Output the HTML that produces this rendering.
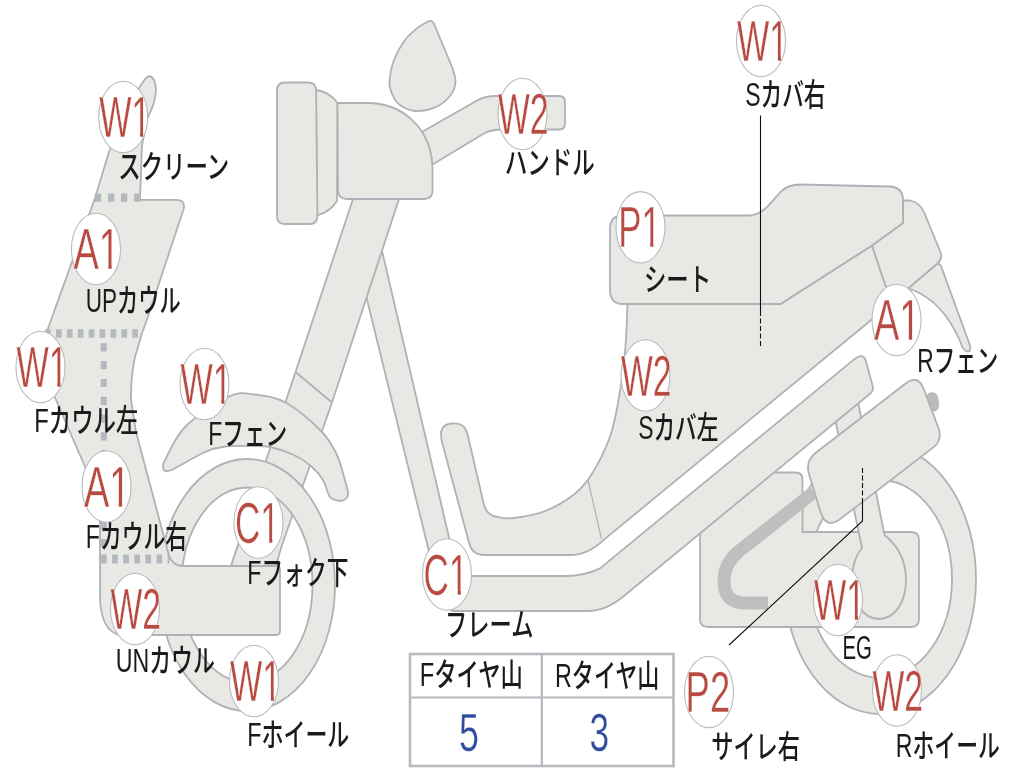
<!DOCTYPE html>
<html lang="ja"><head><meta charset="utf-8"><title>バイク状態図</title>
<style>html,body{margin:0;padding:0;background:#fff;overflow:hidden}svg{display:block;filter:blur(0.5px)}</style></head>
<body>
<svg width="1024" height="768" viewBox="0 0 1024 768">
<defs>
<clipPath id="kW" clipPathUnits="userSpaceOnUse"><path clip-rule="evenodd" d="M-10,-70 H130 V20 H-10 Z M55.64,-5.46 H68.13 V2 H55.64 Z M73.17,-5.46 H85.22 V2 H73.17 Z"/></clipPath>
<clipPath id="kA" clipPathUnits="userSpaceOnUse"><path clip-rule="evenodd" d="M-10,-70 H130 V20 H-10 Z M39.86,-5.46 H52.35 V2 H39.86 Z M57.39,-5.46 H69.44 V2 H57.39 Z"/></clipPath>
<clipPath id="kC" clipPathUnits="userSpaceOnUse"><path clip-rule="evenodd" d="M-10,-70 H130 V20 H-10 Z M43.01,-5.46 H55.50 V2 H43.01 Z M60.53,-5.46 H72.58 V2 H60.53 Z"/></clipPath>
<clipPath id="kP" clipPathUnits="userSpaceOnUse"><path clip-rule="evenodd" d="M-10,-70 H130 V20 H-10 Z M39.86,-5.46 H52.35 V2 H39.86 Z M57.39,-5.46 H69.44 V2 H57.39 Z"/></clipPath>
</defs>
<path d="M784.0,579.0 A96.0,135.0 0 1,0 976.0,579.0 A96.0,135.0 0 1,0 784.0,579.0 Z M808.0,579.0 A72.0,99.0 0 1,1 952.0,579.0 A72.0,99.0 0 1,1 808.0,579.0 Z" fill="#e8e8e4" stroke="#aeb2b6" stroke-width="1.8" stroke-linejoin="round" fill-rule="evenodd"/>
<path d="M700.0,529.4 L769.3,472.5 L795.5,472.5 Q802.5,472.5 802.5,479.5 L802.5,532.0 L911.0,532.0 Q919.0,532.0 919.0,540.0 L919.0,619.0 Q919.0,627.0 911.0,627.0 L708.0,627.0 Q700.0,627.0 700.0,619.0 Z" fill="#e8e8e4" stroke="#aeb2b6" stroke-width="1.8" stroke-linejoin="round" />
<path d="M814,492 L738,552 Q724,564 724,581 Q724,603 745,603 L768,603" fill="none" stroke="#bfbfbf" stroke-width="13"/>
<path d="M835.5,421 L858,402 L884.5,535 C897,545 906,560 906,580 C906,603 894,619 879,619 C864,619 852,603 852,580 C852,566 856,555 862,548 Z" fill="#e8e8e4" stroke="#aeb2b6" stroke-width="1.8" stroke-linejoin="round" />
<path d="M376,225 L449,537.5 Q455,576 470,576 L566,576 Q584,576 600,568.4 L854.1,359.4 Q863.4,351.8 866.0,361.5 L872.6,385.7 Q873.9,390.5 870.0,393.7 L626,594.3 Q607,611 588,611 L452,611 Q436,605 428,547.5 L366,295.5 L352,235 Z" fill="#e8e8e4" stroke="#aeb2b6" stroke-width="1.8" stroke-linejoin="round" />
<path d="M627.5,304 L780.5,304 L872,245.5 L885.5,285.5 L896,299.5 L873,318.5 L604,539.6 Q588,555 570,555 L484,555 Q472,555 469,542.5 L442.5,444 C438,428 444,424 452,423.5 C460,423 465,425 467.5,434 L484,505 Q487,516 498,517 C500.7,517.6 506.3,519.0 514.0,518.0 C521.7,517.0 534.0,515.4 544.0,511.5 C554.0,507.6 566.1,500.7 574.0,494.5 C581.9,488.3 585.7,483.7 591.5,474.5 C597.3,465.3 604.7,450.9 609.0,439.5 C613.3,428.1 614.8,420.6 617.5,406.0 C620.2,391.4 623.3,369.0 625.0,352.0 C626.7,335.0 627.1,312.0 627.5,304.0 Z" fill="#e8e8e4" stroke="#aeb2b6" stroke-width="1.8" stroke-linejoin="round" />
<path d="M588,480 L601.5,539" fill="none" stroke="#aeb2b6" stroke-width="1.2"/>
<path d="M932,398.5 L933,405.5" fill="none" stroke="#bcbcbc" stroke-width="12.5" stroke-linecap="round"/>
<path d="M809.1,474.4 Q805.0,461.0 816.1,452.5 L905.3,383.8 Q918.0,374.0 923.7,389.0 L938.4,427.8 Q943.0,440.0 932.7,447.9 L841.1,518.4 Q826.0,530.0 820.5,511.8 Z" fill="#e8e8e4" stroke="#aeb2b6" stroke-width="1.8" stroke-linejoin="round" />
<path d="M908,288.5 L938,263 L941,266 L969.5,344 Q972,352 967.5,351.5 Q963,351 960,341 C950,318 935,299 913,290 Z" fill="#e8e8e4" stroke="#aeb2b6" stroke-width="1.8" stroke-linejoin="round" />
<path d="M903,200.5 L910.5,200.5 Q920,203 924,212 L940.5,252 Q943,258 938,263 L908,288.5 L896,299.5 L885.5,285.5 L872,245.5 L903,223 Z" fill="#e8e8e4" stroke="#aeb2b6" stroke-width="1.8" stroke-linejoin="round" />
<path d="M610,229 Q610,215.5 623,215.5 L750,215.5 C764,214 769,204 781,191.5 Q788,184.5 800,184.5 L889,186.5 Q903,187 903,200 L903,223 L872,245.5 L780.5,304 L623,304 Q610,304 610,290 Z" fill="#e8e8e4" stroke="#aeb2b6" stroke-width="1.8" stroke-linejoin="round" />
<path d="M356,190 L295.5,372 L231.4,564.6 L225,585 L270,585 L282,545 L332,402.5 L399,199 L399,190 Z" fill="#e8e8e4" stroke="#aeb2b6" stroke-width="1.8" stroke-linejoin="round" />
<path d="M295.5,372 L332,402.5" fill="none" stroke="#aeb2b6" stroke-width="1.8"/>
<path d="M159.0,585.0 A88.0,126.0 0 1,0 335.0,585.0 A88.0,126.0 0 1,0 159.0,585.0 Z M181.5,585.0 A65.5,97.5 0 1,1 312.5,585.0 A65.5,97.5 0 1,1 181.5,585.0 Z" fill="#e8e8e4" stroke="#aeb2b6" stroke-width="1.8" stroke-linejoin="round" fill-rule="evenodd"/>
<path d="M164,462 C167.5,456.2 174.2,437.9 185.0,427.0 C195.8,416.1 217.3,401.9 229.0,396.5 C240.7,391.1 245.4,393.4 255.0,394.5 C264.6,395.6 275.4,396.8 286.5,403.0 C297.6,409.2 313.2,423.0 321.5,431.5 C329.8,440.0 332.8,446.5 336.5,454.0 C340.2,461.5 342.1,470.2 344.0,476.5 C345.9,482.8 347.3,489.4 348.0,492.0 Q349,500 340,501 C338.3,500.3 332.8,500.5 330.0,497.0 C327.2,493.5 326.1,485.1 323.0,480.0 C319.9,474.9 316.3,470.7 311.5,466.5 C306.7,462.3 300.9,458.2 294.0,455.0 C287.1,451.8 277.5,448.5 270.0,447.0 C262.5,445.5 256.5,446.1 249.0,446.0 C241.5,445.9 232.3,445.5 225.0,446.5 C217.7,447.5 213.8,448.1 205.0,452.0 C196.2,455.9 177.5,467.0 172.0,470.0 Q160,474 164,462 Z" fill="#e8e8e4" stroke="#aeb2b6" stroke-width="1.8" stroke-linejoin="round" />
<path d="M109,152 Q125,108 145,79 Q150,73 154,80 Q160,94 147.5,118 L142,145 L140,199.8 L176,199.8 Q186,199.8 183.5,209.5 L147.5,318 L141.7,334 L134.5,359 Q130.5,380 131,400 L136,432 L168,552 Q171,566 184,566 L276,566 Q280,566 280,570 L280,631 Q280,635 276,635 L120,635 Q102,632 100,600 L100,519 L86,469 L56,400 C46,378 40,355 46,334 L95,198 Z" fill="#e8e8e4" stroke="#aeb2b6" stroke-width="1.8" stroke-linejoin="round" />
<path d="M94.8,197.6 L140.5,197.6" fill="none" stroke="#b4b8bf" stroke-width="8.2" stroke-dasharray="6.3 6.8"/>
<path d="M45.1,333.5 L138.5,333.5" fill="none" stroke="#b4b8bf" stroke-width="8.3" stroke-dasharray="5.7 5.2"/>
<path d="M103.8,343.3 L103.8,559" fill="none" stroke="#b4b8bf" stroke-width="6.0" stroke-dasharray="8.2 9.6"/>
<path d="M101,559 L169.5,559" fill="none" stroke="#b4b8bf" stroke-width="8.9" stroke-dasharray="5.7 5.4"/>
<path d="M420,133 L478,100 Q486,96 496,96 L559,96 Q565,96 565,102 L565,123.5 Q565,129.5 559,129.5 L500,129.5 Q490,130 484,133.5 L430,166 Z" fill="#e8e8e4" stroke="#aeb2b6" stroke-width="1.8" stroke-linejoin="round" />
<path d="M434.5,25 L452.5,68 C453.0,70.3 455.9,77.3 455.5,82.0 C455.1,86.7 453.4,91.8 450.0,96.0 C446.6,100.2 440.8,105.0 435.0,107.5 C429.2,110.0 420.8,111.4 415.0,111.0 C409.2,110.6 403.8,107.7 400.0,105.0 C396.2,102.3 394.2,98.8 392.5,95.0 C390.8,91.2 389.2,87.8 389.5,82.0 C389.8,76.2 391.4,67.0 394.0,60.0 C396.6,53.0 401.0,45.4 405.0,40.0 C409.0,34.6 414.2,30.6 418.0,27.5 C421.8,24.4 426.3,22.5 428.0,21.5 Q432.5,19.5 434.5,25 Z" fill="#e8e8e4" stroke="#aeb2b6" stroke-width="1.8" stroke-linejoin="round" />
<path d="M316,90 Q330,92 337.5,103 L337,201 Q330,212 317,215.5 Z" fill="#e8e8e4" stroke="#aeb2b6" stroke-width="1.8" stroke-linejoin="round" />
<path d="M277.0,90.5 Q277.0,82.5 285.0,82.5 L308.0,82.5 Q316.0,82.5 316.1,90.5 L317.4,216.0 Q317.5,224.0 309.5,224.0 L285.0,224.0 Q277.0,224.0 277.0,216.0 Z" fill="#e8e8e4" stroke="#aeb2b6" stroke-width="1.8" stroke-linejoin="round" />
<path d="M337.5,103 L370,103 C402,104 432.5,128 432.5,170 L432.5,191 Q432.5,199 424,199 L347,199 Q338.5,199 338,191 Z" fill="#e8e8e4" stroke="#aeb2b6" stroke-width="1.8" stroke-linejoin="round" />
<rect x="410" y="654" width="263.5" height="112" fill="#fff" stroke="#b6b9c0" stroke-width="2.6"/>
<path d="M541.8,654 L541.8,766 M410,697.5 L673.5,697.5" fill="none" stroke="#b6b9c0" stroke-width="2.2"/>
<path d="M760.5,115.5 L760.5,311" fill="none" stroke="#111" stroke-width="1.1"/>
<path d="M760.5,311 L760.5,347" fill="none" stroke="#111" stroke-width="1.1" stroke-dasharray="5 2.5"/>
<path d="M862.5,468 L862.5,501" fill="none" stroke="#111" stroke-width="1.1" stroke-dasharray="5 2.5"/>
<path d="M862.5,501 L862.5,521 L729,645" fill="none" stroke="#111" stroke-width="1.1"/>
<ellipse cx="123.2" cy="117" rx="24.5" ry="35.7" fill="#fff" stroke="#b9bac0" stroke-width="1.1"/>
<ellipse cx="96" cy="249" rx="24.5" ry="35.7" fill="#fff" stroke="#b9bac0" stroke-width="1.1"/>
<ellipse cx="40.5" cy="367" rx="24.5" ry="35.7" fill="#fff" stroke="#b9bac0" stroke-width="1.1"/>
<ellipse cx="204.5" cy="384" rx="24.5" ry="35.7" fill="#fff" stroke="#b9bac0" stroke-width="1.1"/>
<ellipse cx="106.5" cy="486.5" rx="24.5" ry="35.7" fill="#fff" stroke="#b9bac0" stroke-width="1.1"/>
<ellipse cx="258.5" cy="522.5" rx="24.5" ry="35.7" fill="#fff" stroke="#b9bac0" stroke-width="1.1"/>
<ellipse cx="135" cy="609" rx="24.5" ry="35.7" fill="#fff" stroke="#b9bac0" stroke-width="1.1"/>
<ellipse cx="254" cy="681" rx="24.5" ry="35.7" fill="#fff" stroke="#b9bac0" stroke-width="1.1"/>
<ellipse cx="447" cy="574.5" rx="24.5" ry="35.7" fill="#fff" stroke="#b9bac0" stroke-width="1.1"/>
<ellipse cx="522.5" cy="114" rx="24.5" ry="35.7" fill="#fff" stroke="#b9bac0" stroke-width="1.1"/>
<ellipse cx="761" cy="41" rx="24.5" ry="35.7" fill="#fff" stroke="#b9bac0" stroke-width="1.1"/>
<ellipse cx="640.5" cy="227.3" rx="24.5" ry="35.7" fill="#fff" stroke="#b9bac0" stroke-width="1.1"/>
<ellipse cx="645.5" cy="375.5" rx="24.5" ry="35.7" fill="#fff" stroke="#b9bac0" stroke-width="1.1"/>
<ellipse cx="896.5" cy="320" rx="24.5" ry="35.7" fill="#fff" stroke="#b9bac0" stroke-width="1.1"/>
<ellipse cx="838" cy="600" rx="24.5" ry="35.7" fill="#fff" stroke="#b9bac0" stroke-width="1.1"/>
<ellipse cx="897" cy="690.5" rx="24.5" ry="35.7" fill="#fff" stroke="#b9bac0" stroke-width="1.1"/>
<ellipse cx="709" cy="692" rx="24.5" ry="35.7" fill="#fff" stroke="#b9bac0" stroke-width="1.1"/>
<text transform="translate(118.21,178.00) scale(0.7120,1)" font-size="31.5" font-weight="500" fill="#1c1a1a" font-family="'Liberation Sans','Noto Sans CJK JP',sans-serif">スクリーン</text>
<text transform="translate(85.80,311.50) scale(0.6747,1)" font-size="31.5" font-weight="500" fill="#1c1a1a" font-family="'Liberation Sans','Noto Sans CJK JP',sans-serif"><tspan font-size="33.4">UP</tspan>カウル</text>
<text transform="translate(34.21,432.00) scale(0.7117,1)" font-size="31.5" font-weight="500" fill="#1c1a1a" font-family="'Liberation Sans','Noto Sans CJK JP',sans-serif"><tspan font-size="33.4">F</tspan>カウル左</text>
<text transform="translate(208.27,444.50) scale(0.6879,1)" font-size="31.5" font-weight="500" fill="#1c1a1a" font-family="'Liberation Sans','Noto Sans CJK JP',sans-serif"><tspan font-size="33.4">F</tspan>フェン</text>
<text transform="translate(85.76,547.50) scale(0.6922,1)" font-size="31.5" font-weight="500" fill="#1c1a1a" font-family="'Liberation Sans','Noto Sans CJK JP',sans-serif"><tspan font-size="33.4">F</tspan>カウル右</text>
<text transform="translate(247.26,584.00) scale(0.6922,1)" font-size="31.5" font-weight="500" fill="#1c1a1a" font-family="'Liberation Sans','Noto Sans CJK JP',sans-serif"><tspan font-size="33.4">F</tspan>フォク下</text>
<text transform="translate(115.75,672.00) scale(0.6945,1)" font-size="31.5" font-weight="500" fill="#1c1a1a" font-family="'Liberation Sans','Noto Sans CJK JP',sans-serif"><tspan font-size="33.4">UN</tspan>カウル</text>
<text transform="translate(247.24,746.00) scale(0.6977,1)" font-size="31.5" font-weight="500" fill="#1c1a1a" font-family="'Liberation Sans','Noto Sans CJK JP',sans-serif"><tspan font-size="33.4">F</tspan>ホイール</text>
<text transform="translate(445.11,635.50) scale(0.7064,1)" font-size="31.5" font-weight="500" fill="#1c1a1a" font-family="'Liberation Sans','Noto Sans CJK JP',sans-serif">フレーム</text>
<text transform="translate(504.65,174.00) scale(0.7163,1)" font-size="31.5" font-weight="500" fill="#1c1a1a" font-family="'Liberation Sans','Noto Sans CJK JP',sans-serif">ハンドル</text>
<text transform="translate(745.13,106.00) scale(0.6890,1)" font-size="31.5" font-weight="500" fill="#1c1a1a" font-family="'Liberation Sans','Noto Sans CJK JP',sans-serif"><tspan font-size="33.4">S</tspan>カバ右</text>
<text transform="translate(643.99,290.50) scale(0.7106,1)" font-size="31.5" font-weight="500" fill="#1c1a1a" font-family="'Liberation Sans','Noto Sans CJK JP',sans-serif">シート</text>
<text transform="translate(638.13,438.50) scale(0.6871,1)" font-size="31.5" font-weight="500" fill="#1c1a1a" font-family="'Liberation Sans','Noto Sans CJK JP',sans-serif"><tspan font-size="33.4">S</tspan>カバ左</text>
<text transform="translate(917.28,372.00) scale(0.6830,1)" font-size="31.5" font-weight="500" fill="#1c1a1a" font-family="'Liberation Sans','Noto Sans CJK JP',sans-serif"><tspan font-size="33.4">R</tspan>フェン</text>
<text transform="translate(842.46,659.00) scale(0.6109,1)" font-size="31.5" font-weight="500" fill="#1c1a1a" font-family="'Liberation Sans','Noto Sans CJK JP',sans-serif"><tspan font-size="33.4">EG</tspan></text>
<text transform="translate(895.86,757.00) scale(0.6923,1)" font-size="31.5" font-weight="500" fill="#1c1a1a" font-family="'Liberation Sans','Noto Sans CJK JP',sans-serif"><tspan font-size="33.4">R</tspan>ホイール</text>
<text transform="translate(711.17,757.50) scale(0.7059,1)" font-size="31.5" font-weight="500" fill="#1c1a1a" font-family="'Liberation Sans','Noto Sans CJK JP',sans-serif">サイレ右</text>
<text transform="translate(419.71,686.00) scale(0.7090,1)" font-size="31.5" font-weight="500" fill="#1c1a1a" font-family="'Liberation Sans','Noto Sans CJK JP',sans-serif"><tspan font-size="33.4">F</tspan>タイヤ山</text>
<text transform="translate(554.99,686.50) scale(0.6994,1)" font-size="31.5" font-weight="500" fill="#1c1a1a" font-family="'Liberation Sans','Noto Sans CJK JP',sans-serif"><tspan font-size="33.4">R</tspan>タイヤ山</text>
<text transform="translate(99.21,137.16) scale(0.5998,1)" font-size="57.0" fill="#b94a42" stroke="#fff" stroke-width="0.3" vector-effect="non-scaling-stroke" clip-path="url(#kW)" font-family="'Liberation Sans','Noto Sans CJK JP',sans-serif">W1</text>
<text transform="translate(73.44,269.17) scale(0.6660,1)" font-size="57.0" fill="#b94a42" stroke="#fff" stroke-width="0.3" vector-effect="non-scaling-stroke" clip-path="url(#kA)" font-family="'Liberation Sans','Noto Sans CJK JP',sans-serif">A1</text>
<text transform="translate(16.51,387.17) scale(0.5998,1)" font-size="57.0" fill="#b94a42" stroke="#fff" stroke-width="0.3" vector-effect="non-scaling-stroke" clip-path="url(#kW)" font-family="'Liberation Sans','Noto Sans CJK JP',sans-serif">W1</text>
<text transform="translate(180.51,404.17) scale(0.5998,1)" font-size="57.0" fill="#b94a42" stroke="#fff" stroke-width="0.3" vector-effect="non-scaling-stroke" clip-path="url(#kW)" font-family="'Liberation Sans','Noto Sans CJK JP',sans-serif">W1</text>
<text transform="translate(83.94,506.67) scale(0.6660,1)" font-size="57.0" fill="#b94a42" stroke="#fff" stroke-width="0.3" vector-effect="non-scaling-stroke" clip-path="url(#kA)" font-family="'Liberation Sans','Noto Sans CJK JP',sans-serif">A1</text>
<text transform="translate(235.05,542.95) scale(0.6154,1)" font-size="57.0" fill="#b94a42" stroke="#fff" stroke-width="0.3" vector-effect="non-scaling-stroke" clip-path="url(#kC)" font-family="'Liberation Sans','Noto Sans CJK JP',sans-serif">C1</text>
<text transform="translate(110.51,629.45) scale(0.5910,1)" font-size="57.0" fill="#b94a42" stroke="#fff" stroke-width="0.3" vector-effect="non-scaling-stroke" font-family="'Liberation Sans','Noto Sans CJK JP',sans-serif">W2</text>
<text transform="translate(230.01,701.16) scale(0.5998,1)" font-size="57.0" fill="#b94a42" stroke="#fff" stroke-width="0.3" vector-effect="non-scaling-stroke" clip-path="url(#kW)" font-family="'Liberation Sans','Noto Sans CJK JP',sans-serif">W1</text>
<text transform="translate(423.55,594.95) scale(0.6154,1)" font-size="57.0" fill="#b94a42" stroke="#fff" stroke-width="0.3" vector-effect="non-scaling-stroke" clip-path="url(#kC)" font-family="'Liberation Sans','Noto Sans CJK JP',sans-serif">C1</text>
<text transform="translate(498.01,134.45) scale(0.5910,1)" font-size="57.0" fill="#b94a42" stroke="#fff" stroke-width="0.3" vector-effect="non-scaling-stroke" font-family="'Liberation Sans','Noto Sans CJK JP',sans-serif">W2</text>
<text transform="translate(737.01,61.16) scale(0.5998,1)" font-size="57.0" fill="#b94a42" stroke="#fff" stroke-width="0.3" vector-effect="non-scaling-stroke" clip-path="url(#kW)" font-family="'Liberation Sans','Noto Sans CJK JP',sans-serif">W1</text>
<text transform="translate(618.37,247.47) scale(0.6095,1)" font-size="57.0" fill="#b94a42" stroke="#fff" stroke-width="0.3" vector-effect="non-scaling-stroke" clip-path="url(#kP)" font-family="'Liberation Sans','Noto Sans CJK JP',sans-serif">P1</text>
<text transform="translate(621.01,395.95) scale(0.5910,1)" font-size="57.0" fill="#b94a42" stroke="#fff" stroke-width="0.3" vector-effect="non-scaling-stroke" font-family="'Liberation Sans','Noto Sans CJK JP',sans-serif">W2</text>
<text transform="translate(873.94,340.17) scale(0.6660,1)" font-size="57.0" fill="#b94a42" stroke="#fff" stroke-width="0.3" vector-effect="non-scaling-stroke" clip-path="url(#kA)" font-family="'Liberation Sans','Noto Sans CJK JP',sans-serif">A1</text>
<text transform="translate(814.01,620.16) scale(0.5998,1)" font-size="57.0" fill="#b94a42" stroke="#fff" stroke-width="0.3" vector-effect="non-scaling-stroke" clip-path="url(#kW)" font-family="'Liberation Sans','Noto Sans CJK JP',sans-serif">W1</text>
<text transform="translate(872.51,710.95) scale(0.5910,1)" font-size="57.0" fill="#b94a42" stroke="#fff" stroke-width="0.3" vector-effect="non-scaling-stroke" font-family="'Liberation Sans','Noto Sans CJK JP',sans-serif">W2</text>
<text transform="translate(685.58,712.45) scale(0.6397,1)" font-size="57.0" fill="#b94a42" stroke="#fff" stroke-width="0.3" vector-effect="non-scaling-stroke" font-family="'Liberation Sans','Noto Sans CJK JP',sans-serif">P2</text>
<text transform="translate(459.07,750.50) scale(0.6575,1)" font-size="54.5" fill="#2f4b9c" stroke="#fff" stroke-width="0.3" vector-effect="non-scaling-stroke" font-family="'Liberation Sans','Noto Sans CJK JP',sans-serif">5</text>
<text transform="translate(589.44,750.50) scale(0.6478,1)" font-size="54.5" fill="#2f4b9c" stroke="#fff" stroke-width="0.3" vector-effect="non-scaling-stroke" font-family="'Liberation Sans','Noto Sans CJK JP',sans-serif">3</text>
</svg>
</body></html>
